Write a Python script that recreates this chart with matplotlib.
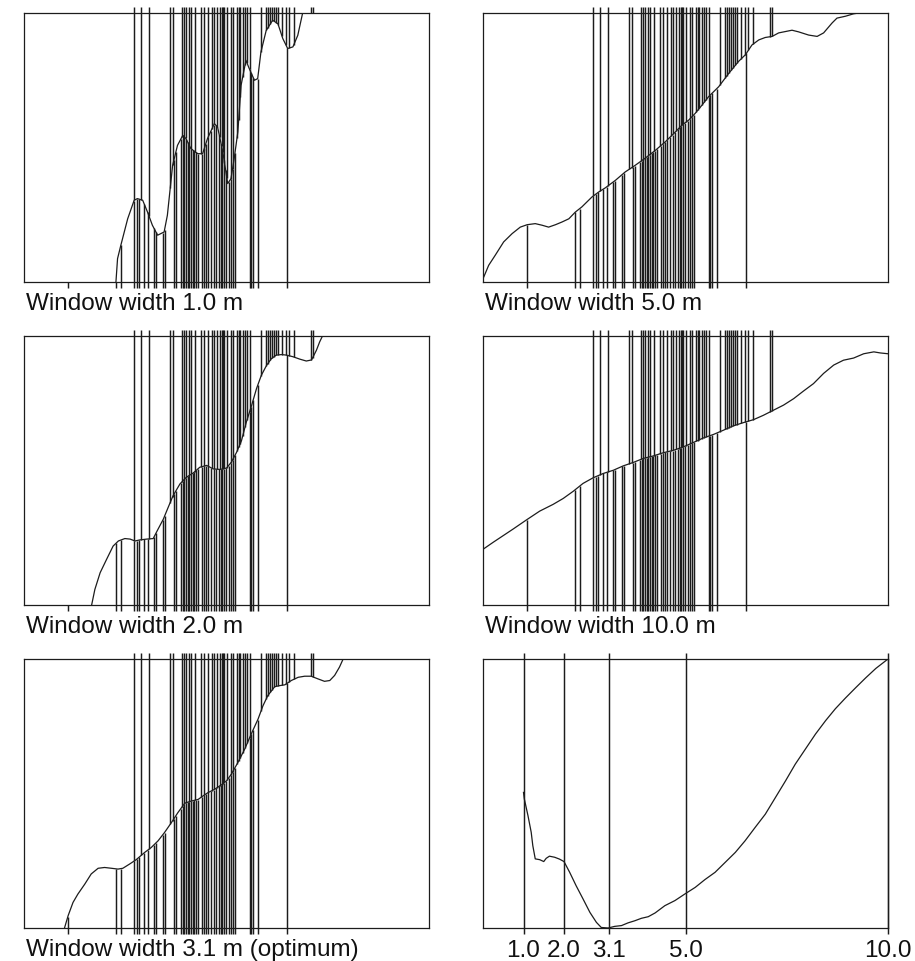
import numpy as np
import matplotlib
matplotlib.use("Agg")
import matplotlib.pyplot as plt

plt.rcParams['font.family'] = ['Liberation Sans', 'DejaVu Sans']

# ---- event positions (position along transect, 0-100) ----
presence_x = [27.2, 29.0, 30.9, 36.1, 36.7, 39.0, 39.5, 39.9, 40.8, 41.2, 42.2, 43.7,
              44.4, 45.5, 46.4, 47.0, 47.7, 48.3, 48.8, 49.1, 49.5, 50.1, 51.0, 51.5,
              52.6, 53.0, 53.4, 54.0, 54.6, 55.1, 55.7, 58.5, 59.8, 60.2, 60.8, 61.3,
              61.8, 62.3, 62.8, 63.7, 64.7, 65.5, 66.6, 70.9, 71.3]
absence_x = [10.8, 22.7, 23.9, 27.1, 27.9, 28.5, 29.7, 30.5, 32.1, 32.6, 34.3, 34.7,
             37.0, 37.5, 38.7, 39.2, 39.6, 40.0, 40.4, 40.8, 41.2, 41.7, 42.0, 42.5,
             42.9, 43.9, 44.5, 44.9, 45.5, 46.2, 46.8, 47.4, 48.2, 48.7, 49.0, 49.4,
             49.8, 50.5, 51.1, 51.5, 52.1, 55.7, 56.1, 56.6, 57.7, 65.0]

# ---- smoothed curves (x, y in box units) ----
w1_x = [22.3, 22.7, 23.1, 23.9, 25.6, 27.2, 28.0, 29.3, 30.5, 31.7, 33.0, 34.6, 35.4, 36.7,
        37.9, 39.2, 40.0, 41.2, 42.9, 44.1, 45.3, 47.0, 47.8, 49.1, 50.3, 51.1, 51.9,
        52.8, 53.6, 54.8, 55.6, 56.9, 57.7, 58.5, 59.8, 61.4, 62.7, 63.9, 65.1, 66.4,
        67.6, 68.8, 69.5]
w1_y = [-0.10, 0.0, 0.087, 0.136, 0.235, 0.304, 0.310, 0.304, 0.260, 0.211, 0.174, 0.186,
        0.248, 0.434, 0.508, 0.545, 0.533, 0.496, 0.477, 0.477, 0.533, 0.589, 0.576,
        0.483, 0.366, 0.384, 0.459, 0.558, 0.731, 0.824, 0.794, 0.750, 0.756, 0.855,
        0.935, 0.973, 0.960, 0.905, 0.868, 0.874, 0.917, 1.0, 1.08]

w2_x = [16.3, 16.7, 17.5, 18.8, 20.4, 22.0, 23.3, 24.9, 26.2, 27.4, 28.6, 30.3, 31.9, 33.1,
        34.4, 35.6, 36.8, 38.5, 40.1, 41.8, 43.4, 45.1, 46.7, 48.4, 50.0, 51.2, 52.5,
        53.7, 54.9, 56.2, 57.4, 58.6, 59.9, 61.1, 62.3, 63.6, 64.8, 66.4, 68.1, 69.7,
        71.0, 72.2, 73.0, 73.7, 74.5]
w2_y = [-0.05, 0.0, 0.058, 0.120, 0.170, 0.219, 0.238, 0.247, 0.245, 0.238, 0.242, 0.245,
        0.247, 0.282, 0.319, 0.363, 0.406, 0.450, 0.475, 0.491, 0.512, 0.519, 0.506,
        0.504, 0.509, 0.531, 0.568, 0.611, 0.680, 0.742, 0.804, 0.854, 0.891, 0.916,
        0.929, 0.931, 0.929, 0.923, 0.914, 0.907, 0.911, 0.947, 0.978, 1.0, 1.03]

w3_x = [9.6, 10.0, 10.9, 12.1, 13.3, 15.0, 16.6, 18.3, 19.9, 21.6, 23.2, 24.4, 26.1, 27.7,
        29.8, 31.4, 33.1, 34.7, 36.4, 38.0, 39.7, 41.3, 43.0, 44.2, 45.4, 47.1, 48.7,
        50.0, 51.2, 52.8, 54.5, 56.1, 57.8, 59.0, 60.2, 61.9, 63.1, 64.4, 66.0, 67.7,
        69.3, 70.9, 72.6, 74.2, 75.5, 76.7, 77.9, 78.8, 79.5]
w3_y = [-0.05, 0.0, 0.046, 0.095, 0.126, 0.163, 0.201, 0.222, 0.225, 0.222, 0.219, 0.222,
        0.238, 0.254, 0.281, 0.299, 0.324, 0.355, 0.392, 0.429, 0.464, 0.472, 0.478,
        0.491, 0.503, 0.516, 0.532, 0.547, 0.572, 0.615, 0.665, 0.721, 0.777, 0.826,
        0.864, 0.897, 0.901, 0.904, 0.920, 0.932, 0.936, 0.936, 0.926, 0.917, 0.920,
        0.939, 0.970, 1.0, 1.03]

w5_x = [0.2, 1.4, 3.0, 5.1, 7.2, 9.2, 10.9, 12.9, 14.6, 16.2, 17.9, 19.5, 21.2, 22.8, 24.4,
        26.9, 28.6, 30.2, 32.7, 35.1, 37.6, 40.1, 42.6, 45.0, 47.5, 49.1, 50.8, 52.4,
        54.1, 55.7, 58.2, 60.7, 63.1, 64.8, 66.4, 68.1, 69.7, 71.4, 73.0, 76.3, 77.9,
        80.4, 82.5, 84.1, 86.2, 87.4, 89.5, 91.5, 92.8, 94.4]
w5_y = [0.019, 0.062, 0.099, 0.149, 0.180, 0.204, 0.213, 0.217, 0.211, 0.204, 0.213, 0.223,
        0.235, 0.260, 0.279, 0.316, 0.335, 0.350, 0.378, 0.409, 0.434, 0.461, 0.490,
        0.521, 0.558, 0.583, 0.602, 0.627, 0.658, 0.689, 0.726, 0.776, 0.820, 0.845,
        0.881, 0.900, 0.909, 0.913, 0.926, 0.936, 0.930, 0.918, 0.913, 0.926, 0.963,
        0.981, 0.988, 0.997, 1.0, 1.02]

w10_x = [0.0, 2.5, 4.9, 7.4, 10.7, 14.0, 17.3, 19.8, 22.3, 24.7, 27.2, 29.7, 32.2, 34.6,
         37.1, 39.6, 42.0, 44.5, 47.0, 49.5, 51.9, 54.4, 56.9, 59.4, 61.8, 64.3, 66.8,
         69.2, 71.7, 74.2, 76.7, 79.1, 81.6, 84.1, 86.6, 89.0, 91.5, 94.0, 96.5, 98.1, 100.0]
w10_y = [0.207, 0.233, 0.257, 0.282, 0.316, 0.349, 0.374, 0.396, 0.423, 0.452, 0.473, 0.489,
         0.501, 0.517, 0.530, 0.545, 0.554, 0.566, 0.575, 0.588, 0.604, 0.621, 0.634,
         0.650, 0.666, 0.678, 0.689, 0.705, 0.724, 0.743, 0.767, 0.795, 0.823, 0.861,
         0.892, 0.910, 0.918, 0.934, 0.941, 0.937, 0.934]

# ---- cross-validation score vs window width ----
cv_w = [1.00, 1.02, 1.11, 1.19, 1.23, 1.29, 1.40, 1.50, 1.56, 1.64, 1.77, 1.89, 2.00, 2.14,
        2.30, 2.47, 2.64, 2.80, 2.92, 3.09, 3.25, 3.42, 3.58, 3.75, 3.91, 4.08, 4.25,
        4.49, 4.74, 4.99, 5.24, 5.48, 5.73, 5.98, 6.23, 6.47, 6.72, 6.97, 7.22, 7.47,
        7.71, 7.96, 8.21, 8.46, 8.70, 8.95, 9.20, 9.45, 9.70, 10.00]
cv_score = [0.504, 0.480, 0.418, 0.356, 0.306, 0.257, 0.254, 0.247, 0.259, 0.267, 0.263,
            0.256, 0.247, 0.207, 0.157, 0.108, 0.058, 0.021, 0.002, 0.0, 0.006, 0.009,
            0.019, 0.027, 0.036, 0.042, 0.056, 0.083, 0.102, 0.127, 0.151, 0.180, 0.207,
            0.244, 0.281, 0.324, 0.374, 0.423, 0.485, 0.547, 0.609, 0.665, 0.721, 0.771,
            0.815, 0.855, 0.893, 0.930, 0.965, 1.0]
cv_marks = [1.0, 2.0, 3.1, 5.0, 10.0]
cv_labels = ["1.0", "2.0", "3.1", "5.0", "10.0"]

titles = ["Window width 1.0 m", "Window width 5.0 m", "Window width 2.0 m",
          "Window width 10.0 m", "Window width 3.1 m (optimum)"]

INK = "#1c1c1c"
EXT = 0.022
LW = 1.05

fig = plt.figure(figsize=(9.15, 9.62), dpi=100)
W, H = 915, 962
col_left = [24, 483]
row_top = [14, 337, 660]
bw, bh = 405, 269


def make_ax(r, c):
    l = col_left[c] / W
    b = 1 - (row_top[r] + bh) / H
    ax = fig.add_axes([l, b, bw / W, bh / H])
    ax.set_xticks([])
    ax.set_yticks([])
    for s in ax.spines.values():
        s.set_linewidth(0.9)
        s.set_color(INK)
    return ax


def panel(ax, cx, cy, title):
    ax.set_xlim(0, 100)
    ax.set_ylim(0, 1)
    cx = np.asarray(cx)
    cy = np.asarray(cy)
    p = np.asarray(presence_x)
    a = np.asarray(absence_x)
    yp = np.clip(np.interp(p, cx, cy), 0, 1)
    ya = np.clip(np.interp(a, cx, cy), 0, 1)
    ax.vlines(p, yp, 1 + EXT, colors=INK, lw=LW, clip_on=False)
    ax.vlines(a, -EXT, ya, colors=INK, lw=LW, clip_on=False)
    ax.plot(cx, cy, color=INK, lw=0.9)
    ax.text(0.005, -0.038, title, transform=ax.transAxes, ha='left', va='top',
            fontsize=17.5, color="#111111")


curves = [(w1_x, w1_y), (w5_x, w5_y), (w2_x, w2_y), (w10_x, w10_y), (w3_x, w3_y)]
pos = [(0, 0), (0, 1), (1, 0), (1, 1), (2, 0)]
for (r, c), (cx, cy), t in zip(pos, curves, titles):
    ax = make_ax(r, c)
    panel(ax, cx, cy, t)

ax6 = make_ax(2, 1)
ax6.set_xlim(0, 10)
ax6.set_ylim(0, 1)
ax6.vlines(cv_marks, -EXT, 1 + EXT, colors=INK, lw=LW, clip_on=False)
ax6.plot(cv_w, cv_score, color=INK, lw=0.9)
for xm, lab in zip(cv_marks, cv_labels):
    ax6.text(xm, -0.04, lab, ha='center', va='top', fontsize=17.5, color="#111111",
             transform=ax6.get_xaxis_transform())

fig.savefig("out.png", dpi=100, facecolor="white")
